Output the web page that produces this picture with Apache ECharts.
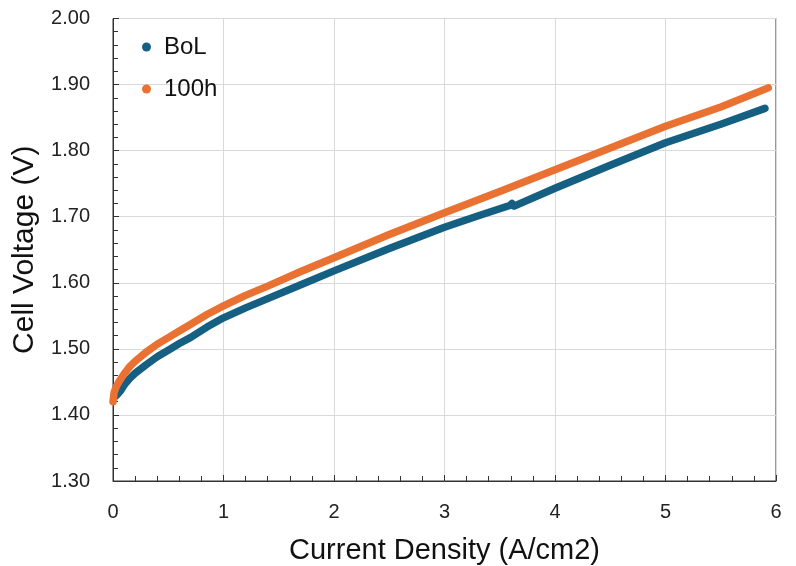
<!DOCTYPE html>
<html>
<head>
<meta charset="utf-8">
<script src="https://cdn.jsdelivr.net/npm/echarts@6/dist/echarts.min.js"></script>
<style>html,body{margin:0;padding:0;background:#fff}#c{width:796px;height:566px}</style>
</head>
<body>
<div id="c"></div>
<script>
const seriesNames = ['BoL', '100h'];
const bolX = [0.02, 0.04, 0.07, 0.1, 0.15, 0.2, 0.3, 0.4, 0.5, 0.6, 0.7, 0.85, 1.0, 1.2, 1.4, 1.7, 2.0, 2.5, 3.0, 3.3, 3.5, 3.59, 3.61, 3.63, 4.0, 4.5, 5.0, 5.5, 5.9];
const bolY = [1.428, 1.431, 1.437, 1.445, 1.455, 1.463, 1.476, 1.488, 1.498, 1.508, 1.517, 1.533, 1.547, 1.562, 1.576, 1.597, 1.618, 1.652, 1.684, 1.701, 1.712, 1.717, 1.720, 1.716, 1.743, 1.778, 1.812, 1.840, 1.864];
const h100X = [0, 0.01, 0.03, 0.06, 0.1, 0.15, 0.2, 0.3, 0.4, 0.5, 0.6, 0.7, 0.85, 1.0, 1.2, 1.4, 1.7, 2.0, 2.5, 3.0, 3.5, 4.0, 4.5, 5.0, 5.5, 5.93];
const h100Y = [1.42, 1.434, 1.443, 1.452, 1.462, 1.473, 1.481, 1.495, 1.507, 1.517, 1.527, 1.537, 1.552, 1.565, 1.581, 1.595, 1.617, 1.638, 1.673, 1.706, 1.738, 1.771, 1.804, 1.837, 1.866, 1.895];
const xTicks = [0, 1, 2, 3, 4, 5, 6];
const yTicks = [1.30, 1.40, 1.50, 1.60, 1.70, 1.80, 1.90, 2.00];

const pair = (xs, ys) => xs.map((x, i) => [x, ys[i]]);
const colors = ['#156082', '#E97132'];
const font = '"Liberation Sans", Arial, sans-serif';

const chart = echarts.init(document.getElementById('c'), null, {renderer: 'canvas'});
chart.setOption({
  animation: false,
  backgroundColor: '#fff',
  grid: {left: 113, right: 20, top: 18.5, bottom: 85, show: true, borderColor: '#333', borderWidth: 1,
         containLabel: false, outerBoundsMode: 'none'},
  legend: {
    orient: 'vertical', left: 137, top: 30, itemWidth: 9, itemHeight: 9, itemGap: 18,
    icon: 'circle',
    textStyle: {fontSize: 24, color: '#111', fontFamily: font, padding: [0, 0, 0, 8]},
    data: seriesNames
  },
  xAxis: {
    type: 'value', min: xTicks[0], max: xTicks[xTicks.length - 1], interval: 1,
    name: 'Current Density (A/cm2)', nameLocation: 'middle', nameGap: 55,
    nameTextStyle: {fontSize: 29, color: '#111', fontFamily: font},
    axisLine: {show: true, lineStyle: {color: '#333', width: 1}},
    axisTick: {show: true, inside: true, length: 6, lineStyle: {color: '#333'}},
    minorTick: {show: true, splitNumber: 5, length: 5, lineStyle: {color: '#333'}},
    axisLabel: {fontSize: 20, color: '#222', fontFamily: font, margin: 21},
    splitLine: {show: true, lineStyle: {color: '#d9d9d9', width: 1}}
  },
  yAxis: {
    type: 'value', min: yTicks[0], max: yTicks[yTicks.length - 1], interval: 0.1,
    name: 'Cell Voltage (V)', nameLocation: 'middle', nameGap: 72,
    nameTextStyle: {fontSize: 30, color: '#111', fontFamily: font},
    axisLine: {show: true, lineStyle: {color: '#333', width: 1}},
    axisTick: {show: true, inside: true, length: 6, lineStyle: {color: '#333'}},
    minorTick: {show: true, splitNumber: 5, length: 5, lineStyle: {color: '#333'}},
    axisLabel: {fontSize: 20, color: '#222', fontFamily: font, margin: 23, formatter: v => v.toFixed(2)},
    splitLine: {show: true, lineStyle: {color: '#d9d9d9', width: 1}}
  },
  series: [
    {name: seriesNames[0], type: 'line', data: pair(bolX, bolY), color: colors[0],
     showSymbol: false, symbol: 'circle', symbolSize: 8, smooth: false,
     lineStyle: {width: 7.5, cap: 'round', join: 'round'}},
    {name: seriesNames[1], type: 'line', data: pair(h100X, h100Y), color: colors[1],
     showSymbol: false, symbol: 'circle', symbolSize: 8, smooth: false,
     lineStyle: {width: 7.5, cap: 'round', join: 'round'}}
  ]
});
</script>
</body>
</html>
